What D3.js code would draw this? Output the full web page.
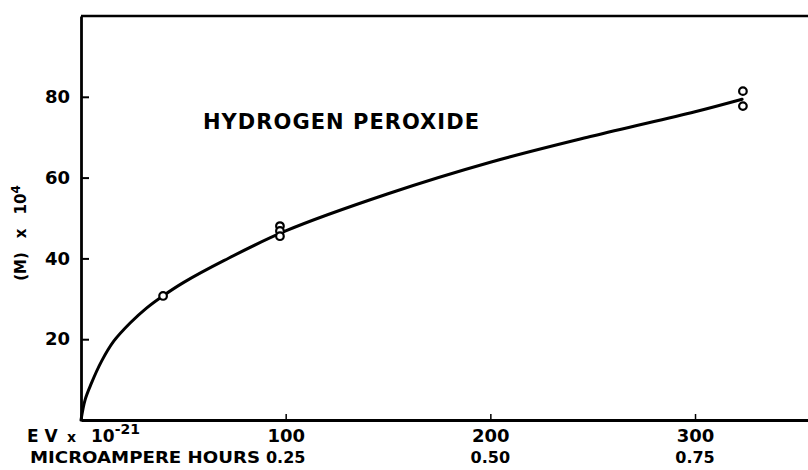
<!DOCTYPE html>
<html>
<head>
<meta charset="utf-8">
<script src="https://cdn.jsdelivr.net/npm/d3@7"></script>
<style>
  html, body { margin: 0; padding: 0; background: #fff; }
  svg { display: block; }
  text { font-family: "DejaVu Sans", sans-serif; font-weight: bold; fill: #000; }
</style>
</head>
<body>
<svg id="chart" width="808" height="470"></svg>
<script>
// Fitted yield curve: energy absorbed (EV x 10^-21) vs concentration (M x 10^4)
const curveEV   = [0, 2, 5, 10, 16, 24, 32, 40, 50, 70, 100, 150, 200, 250, 300, 323];
const curveConc = [0, 5, 9, 14.5, 19.5, 24, 27.7, 30.7, 34, 39.5, 46.8, 56, 63.8, 70.3, 76.3, 79.4];

// Measured points
const pointEV   = [40.1, 97.2, 97.2, 97.2, 323.4, 323.4];
const pointConc = [30.7, 48.0, 46.8, 45.5, 81.4, 77.7];

// Axis ticks
const xTicks = [100, 200, 300];
const xTicksHours = ["0.25", "0.50", "0.75"];
const yTicks = [20, 40, 60, 80];

const title = "HYDROGEN PEROXIDE";

const svg = d3.select("#chart");
const mLeft = 81, mRight = 808, mTop = 16, mBottom = 420;

const x = d3.scaleLinear().domain([0, 355.2]).range([mLeft, mRight]);
const y = d3.scaleLinear().domain([0, 100]).range([mBottom, mTop]);

// Frame: top rule
svg.append("line")
  .attr("x1", mLeft).attr("x2", mRight).attr("y1", mTop).attr("y2", mTop)
  .attr("stroke", "#000").attr("stroke-width", 2.5);

// Y axis
const yAxis = svg.append("g")
  .attr("transform", `translate(${mLeft},0)`)
  .call(d3.axisLeft(y).tickValues(yTicks).tickSizeInner(-8).tickSizeOuter(0).tickPadding(11));
yAxis.select(".domain").attr("stroke-width", 2.8);
yAxis.selectAll(".tick line").attr("stroke-width", 2);
yAxis.selectAll(".tick text").style("font-size", "18px").style("font-family", "DejaVu Sans").style("font-weight", "bold");

// X axis
const xAxis = svg.append("g")
  .attr("transform", `translate(0,${mBottom})`)
  .call(d3.axisBottom(x).tickValues(xTicks).tickSizeInner(-6).tickSizeOuter(0).tickPadding(9));
xAxis.select(".domain").attr("stroke-width", 2.8);
xAxis.selectAll(".tick line").attr("stroke-width", 1.5);
xAxis.selectAll(".tick text").style("font-size", "18px").style("font-family", "DejaVu Sans").style("font-weight", "bold");

// Second row of x labels (microampere hours)
svg.append("g").selectAll("text")
  .data(xTicks)
  .join("text")
  .attr("x", d => x(d))
  .attr("y", 463)
  .attr("text-anchor", "middle")
  .style("font-size", "16px")
  .text((d, i) => xTicksHours[i]);

svg.append("text")
  .attr("x", 30).attr("y", 463)
  .style("font-size", "16px")
  .attr("textLength", 230).attr("lengthAdjust", "spacingAndGlyphs")
  .text("MICROAMPERE  HOURS");

// First row axis title: EV x 10^-21
const ev = svg.append("text").attr("y", 442).style("font-size", "17px");
ev.append("tspan").attr("x", 27).text("E V");
ev.append("tspan").attr("x", 67).style("font-size", "14px").text("x");
ev.append("tspan").attr("x", 91).text("10");
ev.append("tspan").attr("dy", -8).style("font-size", "14px").text("-21");

// Y axis title: (M) x 10^4
const yl = svg.append("text")
  .attr("transform", "translate(26,233) rotate(-90)")
  .attr("text-anchor", "middle")
  .style("font-size", "15px");
yl.append("tspan").text("(M)");
yl.append("tspan").attr("dx", 14).text("x");
yl.append("tspan").attr("dx", 14).text("10");
yl.append("tspan").attr("dy", -6).style("font-size", "12px").text("4");

// Chart title
svg.append("text")
  .attr("x", 203).attr("y", 129)
  .style("font-size", "21px")
  .attr("textLength", 276).attr("lengthAdjust", "spacing")
  .text(title);

// Curve
const line = d3.line()
  .x(d => x(d[0]))
  .y(d => y(d[1]))
  .curve(d3.curveCatmullRom.alpha(0.5));

svg.append("path")
  .datum(d3.zip(curveEV, curveConc))
  .attr("d", line)
  .attr("fill", "none")
  .attr("stroke", "#000")
  .attr("stroke-width", 3)
  .attr("stroke-linecap", "round");

// Points
svg.append("g").selectAll("circle")
  .data(d3.zip(pointEV, pointConc))
  .join("circle")
  .attr("cx", d => x(d[0]))
  .attr("cy", d => y(d[1]))
  .attr("r", 3.8)
  .attr("fill", "#fff")
  .attr("stroke", "#000")
  .attr("stroke-width", 2.2);
</script>
</body>
</html>
